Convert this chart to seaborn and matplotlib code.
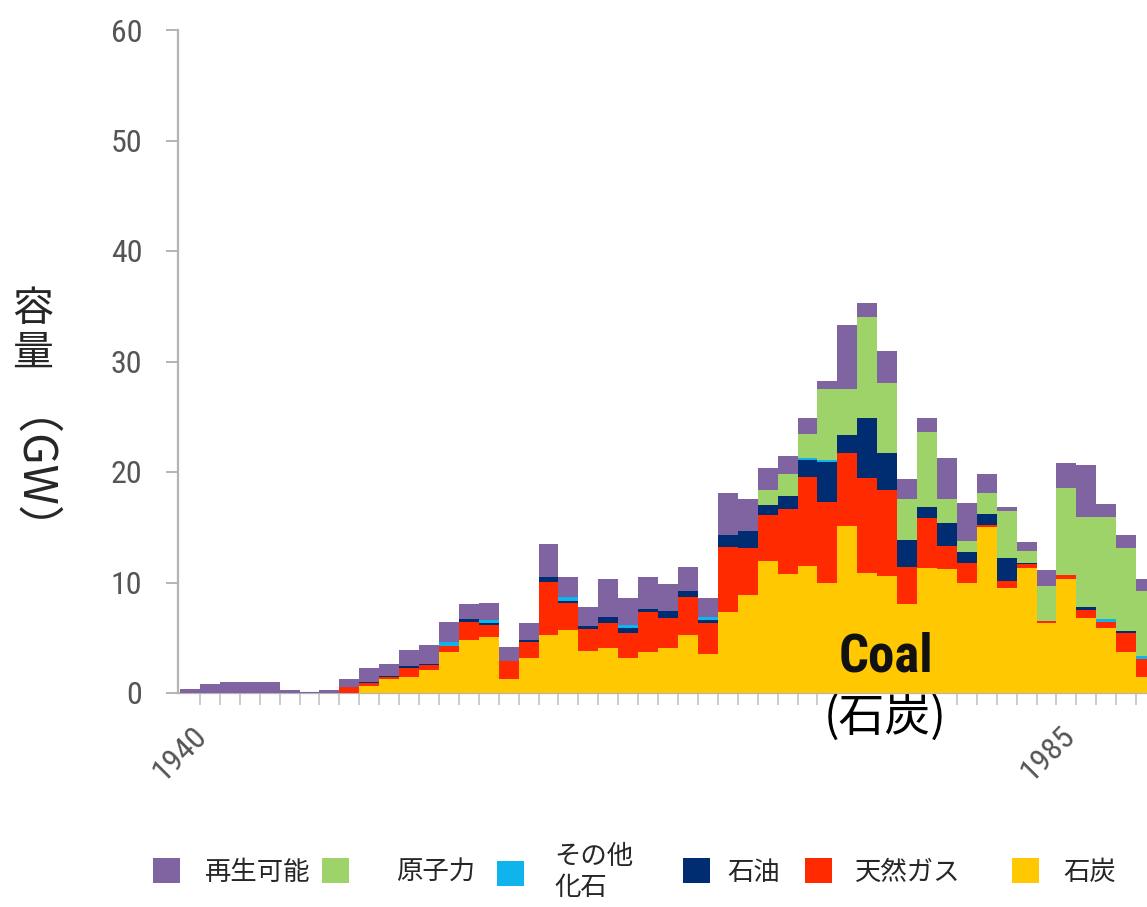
import numpy as np
import pandas as pd
import matplotlib
matplotlib.use("Agg")
import matplotlib.pyplot as plt
import seaborn as sns
from matplotlib.patches import Patch
from matplotlib.ticker import MultipleLocator

# ---------------- data (GW of capacity added per year) ----------------
years = list(range(1940, 1989))

renewables = [0.35, 0.8, 1.0, 1.0, 1.0, 0.3, 0.1, 0.3, 0.75, 1.32,
              1.1, 1.5, 1.7, 1.81, 1.36, 1.57, 1.23, 1.5, 2.98, 1.83,
              1.69, 3.4, 2.46, 2.93, 2.47, 2.11, 1.67, 3.77, 2.91, 2.03,
              1.65, 1.42, 0.78, 5.82, 1.27, 2.87, 1.84, 1.25, 3.71, 3.5,
              1.66, 0.39, 0.79, 1.45, 2.32, 4.67, 1.12, 1.2, 1.03]
nuclear = [0, 0, 0, 0, 0, 0, 0, 0, 0, 0,
           0, 0, 0, 0, 0, 0, 0, 0, 0, 0,
           0, 0, 0, 0, 0, 0, 0, 0, 0, 1.37,
           1.97, 2.2, 6.4, 4.13, 9.14, 6.39, 3.68, 6.85, 2.17, 0.97,
           1.93, 4.28, 1.06, 3.14, 7.84, 8.2, 9.29, 7.46, 5.91]
other_fossil = [0, 0, 0, 0, 0, 0, 0, 0, 0, 0,
                0, 0, 0, 0.39, 0, 0.23, 0, 0, 0, 0.3,
                0, 0, 0.2, 0, 0, 0, 0.3, 0, 0, 0,
                0, 0.15, 0.15, 0, 0, 0, 0, 0, 0, 0,
                0, 0, 0, 0, 0, 0, 0.22, 0, 0.3]
oil = [0, 0, 0, 0, 0, 0, 0, 0, 0, 0.1,
       0.12, 0.2, 0.1, 0, 0.21, 0.22, 0, 0.21, 0.43, 0.2,
       0.24, 0.6, 0.45, 0.24, 0.57, 0.6, 0.3, 1.06, 1.59, 0.9,
       1.21, 1.51, 3.63, 1.66, 5.43, 3.32, 2.45, 0.99, 2.06, 0.97,
       1.0, 2.06, 0.15, 0, 0, 0.25, 0, 0.18, 0]
gas = [0, 0, 0, 0, 0, 0, 0, 0, 0.5, 0.24,
       0.18, 0.75, 0.45, 0.51, 1.65, 1.05, 1.66, 1.45, 4.82, 2.47,
       2.02, 2.26, 2.32, 3.59, 2.78, 3.41, 2.75, 5.88, 4.23, 4.13,
       5.85, 8.09, 7.38, 6.59, 8.54, 7.78, 3.35, 4.51, 2.11, 1.87,
       0.15, 0.6, 0.3, 0.18, 0.39, 0.75, 0.6, 1.72, 1.57]
coal = [0, 0, 0, 0, 0, 0, 0, 0, 0, 0.63,
        1.24, 1.48, 2.08, 3.74, 4.8, 5.1, 1.24, 3.14, 5.25, 5.7,
        3.8, 4.04, 3.14, 3.74, 4.04, 5.25, 3.55, 7.36, 8.87, 11.97,
        10.77, 11.49, 9.92, 15.1, 10.89, 10.59, 8.05, 11.3, 11.19, 9.92,
        15.05, 9.53, 11.34, 6.36, 10.29, 6.76, 5.85, 3.74, 1.48]

fuel_keys = ["再生可能", "原子力", "その他化石", "石油", "天然ガス", "石炭"]
legend_labels = ["再生可能", "原子力", "その他\n化石", "石油", "天然ガス", "石炭"]
colors = ["#8064a2", "#9ed36a", "#10b4ec", "#002d72", "#ff2a00", "#ffc800"]
x_tick_values = [1939.5, 1983.07]
x_tick_labels = ["1940", "1985"]
y_ticks = [0, 10, 20, 30, 40, 50, 60]

series = [renewables, nuclear, other_fossil, oil, gas, coal]
df = pd.concat(
    [pd.DataFrame({"year": years, "fuel": k, "gw": v}) for k, v in zip(fuel_keys, series)],
    ignore_index=True,
)

# ---------------- figure ----------------
sns.set_theme(style="white")
plt.rcParams["font.family"] = ["Noto Sans CJK JP", "DejaVu Sans"]
narrow = ["Liberation Sans Narrow", "Roboto Condensed", "Roboto", "DejaVu Sans"]

W, H = 1147, 907
fig = plt.figure(figsize=(W / 100, H / 100), dpi=100, facecolor="white")
ax_left, ax_right, ax_top, ax_bottom = 178, 1147, 30, 693
ax = fig.add_axes([ax_left / W, 1 - ax_bottom / H, (ax_right - ax_left) / W, (ax_bottom - ax_top) / H])

sns.histplot(
    data=df, x="year", weights="gw", hue="fuel", hue_order=fuel_keys,
    palette=dict(zip(fuel_keys, colors)), multiple="stack", discrete=True,
    shrink=1.0, alpha=1.0, linewidth=0, edgecolor="none", legend=False,
    ax=ax, zorder=3,
)

px_per_year = 19.92
x0 = 1939.5 - 2 / px_per_year
ax.set_xlim(x0, x0 + (ax_right - ax_left) / px_per_year)
ax.set_ylim(0, 60)
ax.set_xlabel("")
ax.set_ylabel("")

for s in ["top", "right"]:
    ax.spines[s].set_visible(False)
for s in ["left", "bottom"]:
    ax.spines[s].set_color("#b4b4b4")
    ax.spines[s].set_linewidth(1.6)

ax.set_yticks(y_ticks)
ax.set_yticklabels([str(v) for v in y_ticks])
ax.tick_params(axis="y", which="major", direction="out", length=8.5, width=1.4,
               color="#b4b4b4", pad=17, labelsize=23, labelcolor="#555555", left=True)

ax.set_xticks(x_tick_values)
ax.set_xticklabels(x_tick_labels, rotation=45, ha="center")
ax.xaxis.set_minor_locator(MultipleLocator(1, offset=0.5))
ax.tick_params(axis="x", which="major", length=0, pad=20, labelsize=23,
               labelcolor="#555555", bottom=True)
ax.tick_params(axis="x", which="minor", direction="out", length=8.5, width=1.2,
               color="#c4c4c4", bottom=True)
for lab in ax.get_xticklabels() + ax.get_yticklabels():
    lab.set_fontfamily(narrow)

# annotations
ax.text(1974.94, 3.25, "Coal", ha="center", va="center", fontsize=38,
        fontweight="bold", family=narrow, color="#111111", zorder=5)
ax.text(1974.9, -2.2, "(石炭)", ha="center", va="center", fontsize=33,
        color="black", zorder=2, clip_on=False,
        bbox=dict(facecolor="white", edgecolor="none", pad=1))

# vertical y-axis title (CJK upright, Latin rotated)
fig.text(33 / W, 1 - 310 / H, "容", fontsize=29.5, ha="center", va="center")
fig.text(33 / W, 1 - 353 / H, "量", fontsize=29.5, ha="center", va="center")
fig.text(37 / W, 1 - 468 / H, " （GW） ", fontsize=33, family="Noto Sans CJK JP",
         ha="center", va="center", rotation=-90, rotation_mode="anchor")

# legend (one entry per position, as in the reference)
leg_fs = 19
handle_px = [153, 322, 497, 683, 805, 1012]
gap_px = [25, 47, 30, 17, 23, 24]
em = leg_fs * 100 / 72
for lab, col, hx, gp in zip(legend_labels, colors, handle_px, gap_px):
    fig.legend(
        handles=[Patch(facecolor=col, edgecolor="none")], labels=[lab],
        loc="center left", bbox_to_anchor=(hx / W, 1 - 872 / H),
        frameon=False, fontsize=leg_fs, borderpad=0, borderaxespad=0,
        handlelength=27 / em, handleheight=28 / em, handletextpad=gp / em,
        labelspacing=0.1,
    )

fig.savefig("out.png", dpi=100, facecolor="white")
